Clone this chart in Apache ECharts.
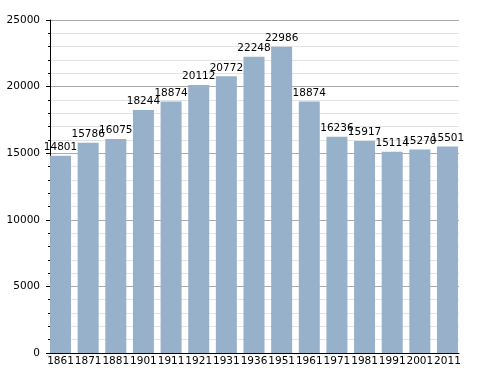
<!DOCTYPE html>
<html><head><meta charset="utf-8">
<script src="https://cdn.jsdelivr.net/npm/echarts@6/dist/echarts.min.js"></script>
<style>html,body{margin:0;padding:0;background:#fff}#c{width:488px;height:373px}</style>
</head><body><div id="c"></div>
<script>
var years = ['1861','1871','1881','1901','1911','1921','1931','1936','1951','1961','1971','1981','1991','2001','2011'];
var population = [14801,15786,16075,18244,18874,20112,20772,22248,22986,18874,16236,15917,15114,15270,15501];
var yMax = 25000, yStep = 5000;
var font = 'DejaVu Sans';
var chart = echarts.init(document.getElementById('c'));
chart.setOption({
  animation: false,
  grid: [
    {left: 50, right: 29, top: 20, bottom: 20},
    {left: 46.7, right: 26.7, top: 20, bottom: 20}
  ],
  xAxis: [
    {gridIndex: 0, type: 'category', data: years, axisLine: {lineStyle: {color: '#000', width: 1}}, axisTick: {show: false}, axisLabel: {show: false}, splitLine: {show: false}, z: 5},
    {gridIndex: 1, type: 'category', data: years, axisLine: {show: false}, axisTick: {show: false},
     axisLabel: {interval: 0, fontFamily: font, fontSize: 10.5, color: '#000', margin: 3}}
  ],
  yAxis: [
    {gridIndex: 0, type: 'value', min: 0, max: yMax, interval: yStep,
     axisLine: {show: true, lineStyle: {color: '#000'}},
     axisTick: {show: true, length: 4, lineStyle: {color: '#000'}},
     minorTick: {show: true, splitNumber: 5, length: 2, lineStyle: {color: '#000'}},
     splitLine: {show: true, lineStyle: {color: '#aaaaaa'}},
     minorSplitLine: {show: true, lineStyle: {color: '#e3e3e3'}},
     axisLabel: {fontFamily: font, fontSize: 10.5, color: '#000', margin: 10, formatter: function (v) { return String(v); }}},
    {gridIndex: 1, type: 'value', min: 0, max: yMax, interval: yStep, show: false}
  ],
  series: [{
    type: 'bar', xAxisIndex: 1, yAxisIndex: 1, data: population, barWidth: 21,
    itemStyle: {color: '#98b1ca'},
    label: {show: true, position: 'top', distance: 3, fontFamily: font, fontSize: 10.5, color: '#000'}
  }]
});
</script></body></html>
